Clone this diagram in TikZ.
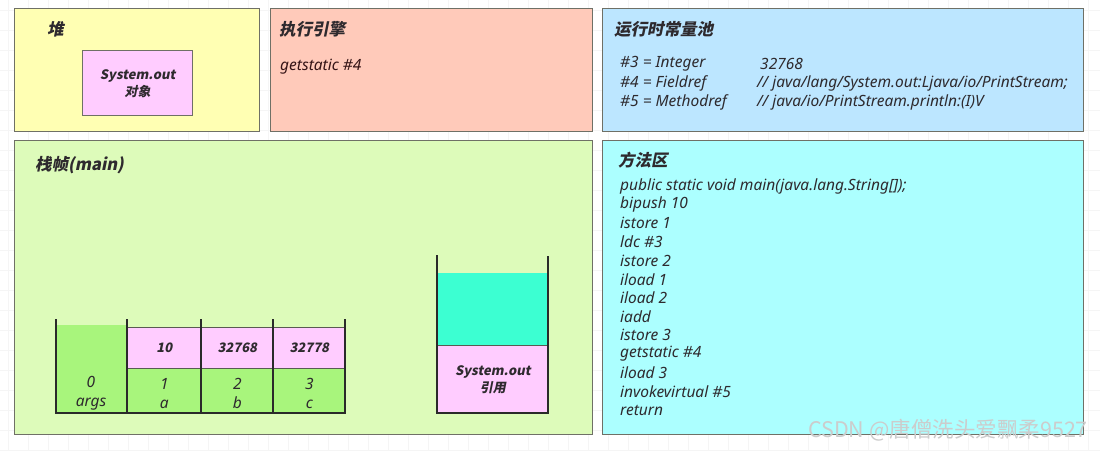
\documentclass[tikz,border=0pt]{standalone}
\usepackage{fontspec}
\setmainfont{Noto Sans}
\newfontfamily\cjk{Noto Sans CJK SC}[FakeSlant=0.2]
\newfontfamily\cjkr{Noto Sans CJK SC}
\definecolor{heapY}{HTML}{FFFFB3}
\definecolor{execR}{HTML}{FFCABA}
\definecolor{poolB}{HTML}{BCE6FF}
\definecolor{frameG}{HTML}{DDFBBA}
\definecolor{methC}{HTML}{ACFFFF}
\definecolor{cellP}{HTML}{FFCCFF}
\definecolor{cellG}{HTML}{A8F57C}
\definecolor{stackT}{HTML}{3CFFD2}
\definecolor{edge}{HTML}{6F7066}
\definecolor{txt}{HTML}{2E2A2E}
\definecolor{wall}{HTML}{2A2A2A}
\begin{document}
\begin{tikzpicture}[x=1pt,y=-1pt,
  panel/.style={draw=edge, line width=1.2pt, fill=#1, anchor=north west, inner sep=0pt},
  title/.style={anchor=west, inner sep=0pt, font=\cjk\bfseries\fontsize{16.5}{18}\selectfont, text=txt},
  body/.style={anchor=west, inner sep=0pt, font=\itshape\fontsize{15.5}{18}\selectfont, text=txt},
  stacked/.style={anchor=center, align=center, inner sep=0pt, font=\itshape\fontsize{15.5}{19}\selectfont, text=txt},
  boldtxt/.style={align=center, inner sep=0pt, font=\cjk\bfseries\fontsize{13}{16}\selectfont, text=txt},
  cellbox/.style={draw=edge!80!black, line width=0.6pt, fill=#1, anchor=north west, inner sep=0pt},
  wallline/.style={draw=wall, line width=1.8pt},
  grid line/.style={draw=gray!8, line width=0.4pt}]
\useasboundingbox (0,0) rectangle (1100,450);
\fill[white] (0,0) rectangle (1100,450);
\foreach \i in {8,28,...,1100} \draw[grid line] (\i,0) -- (\i,450);
\foreach \j in {10,30,...,450} \draw[grid line] (0,\j) -- (1100,\j);

% heap
\node[panel=heapY, minimum width=245pt, minimum height=123pt] (heap) at (14,8) {};
\node[title] (heapT) at (47,29) {堆};
\node[panel=cellP, minimum width=110pt, minimum height=65pt] (obj) at (82,50) {};
\node[boldtxt] (objT) at ([yshift=-1pt]obj.center) {System.out\\[1pt]对象};

% execution engine
\node[panel=execR, minimum width=322pt, minimum height=123pt] (exec) at (270,8) {};
\node[title] (execT) at (279,29) {执行引擎};
\node[body, text=txt!80!red!60!black] (execB) at (280,67) {getstatic \#4};

% runtime constant pool
\node[panel=poolB, minimum width=481pt, minimum height=123pt] (pool) at (602,8) {};
\node[title] (poolT) at (614,29) {运行时常量池};
\node[body] (p3) at (620,64) {\#3 = Integer};
\node[body] (p4) at (620,83) {\#4 = Fieldref};
\node[body] (p5) at (620,102) {\#5 = Methodref};
\node[body] (p3v) at (760,64) {32768};
\node[body] (p4v) at (757,83) {// java/lang/System.out:Ljava/io/PrintStream;};
\node[body] (p5v) at (757,102) {// java/io/PrintStream.println:(I)V};

% stack frame
\node[panel=frameG, minimum width=578pt, minimum height=294pt] (frame) at (14,140) {};
\node[title] (frameT) at (35,165) {栈帧(main)};

% method area
\node[panel=methC, minimum width=481pt, minimum height=294pt] (meth) at (602,140) {};
\node[title] (methT) at (618,160) {方法区};
\foreach \t [count=\k from 0] in {public static void main(java.lang.String[]);, bipush 10, istore 1, ldc \#3, istore 2, iload 1, iload 2, iadd, istore 3, getstatic \#4, iload 3, invokevirtual \#5, return}
  \node[body] (m\k) at (620,186+18.67*\k) {\t};

% local variable table
\fill[cellG] (56,325) rectangle (127,413);
\node[cellbox=cellP, minimum width=74pt, minimum height=41pt] (v1) at (127,327) {};
\node[cellbox=cellP, minimum width=72pt, minimum height=41pt] (v2) at (201,327) {};
\node[cellbox=cellP, minimum width=72pt, minimum height=41pt] (v3) at (273,327) {};
\node[cellbox=cellG, minimum width=74pt, minimum height=45pt] (s1) at (127,368) {};
\node[cellbox=cellG, minimum width=72pt, minimum height=45pt] (s2) at (201,368) {};
\node[cellbox=cellG, minimum width=72pt, minimum height=45pt] (s3) at (273,368) {};
\node[boldtxt] (v1t) at (v1.center) {10};
\node[boldtxt] (v2t) at (v2.center) {32768};
\node[boldtxt] (v3t) at (v3.center) {32778};
\node[stacked] (s0t) at (91,393) {0\\args};
\node[stacked] (s1t) at ([yshift=-2.5pt]s1.center) {1\\a};
\node[stacked] (s2t) at ([yshift=-2.5pt]s2.center) {2\\b};
\node[stacked] (s3t) at ([yshift=-2.5pt]s3.center) {3\\c};
\draw[wallline] (56,319) -- (56,413) -- (345,413) -- (345,319);
\draw[wallline] (127,319) -- (127,413);
\draw[wallline] (201,319) -- (201,413);
\draw[wallline] (273,319) -- (273,413);

% operand stack
\node[cellbox=stackT, draw=none, minimum width=111pt, minimum height=72pt] (top) at (437,273) {};
\node[cellbox=cellP, minimum width=111pt, minimum height=67pt] (ref) at (437,345) {};
\node[boldtxt] (refT) at ([yshift=-1pt]ref.center) {System.out\\[1pt]引用};
\draw[wallline] (437,255) -- (437,413) -- (548,413) -- (548,256);

% watermark
\node[anchor=west, inner sep=0pt, text=gray!40, font=\cjkr\fontsize{21.5}{23}\selectfont] (wm) at (808,430) {CSDN @唐僧洗头爱飘柔9527};
\end{tikzpicture}
\end{document}
